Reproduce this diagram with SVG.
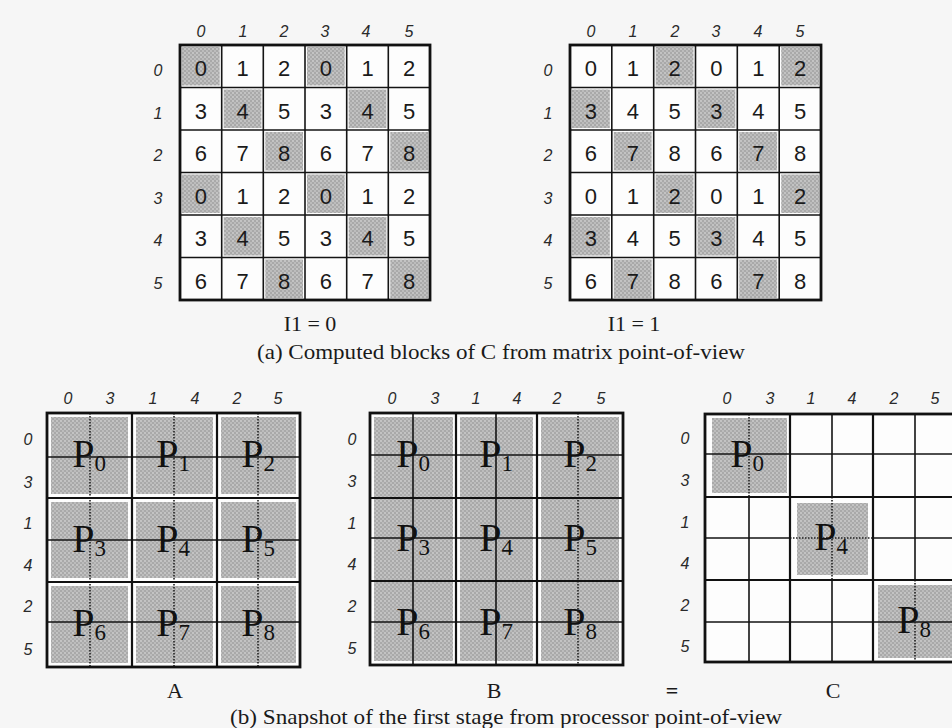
<svg xmlns="http://www.w3.org/2000/svg" width="952" height="728" viewBox="0 0 952 728">
<style>
.bg{fill:#f6f6f6}
.cell{fill:#fdfdfd}
.sh{fill:url(#ht)}
.g{fill:none;stroke:#141414;stroke-width:1.6}
.gm{fill:none;stroke:#111;stroke-width:2.2}
.go{fill:none;stroke:#111;stroke-width:2.8}
.gd{fill:none;stroke:#222;stroke-width:1.6;stroke-dasharray:1.5 1.5}
.num{font-family:"Liberation Sans",Arial,sans-serif;font-size:22px;fill:#1a1a1a;text-anchor:middle}
.hd{font-family:"Liberation Sans",Arial,sans-serif;font-style:italic;font-size:16px;fill:#2a2a2a;text-anchor:middle}
.p{font-family:"Liberation Serif","Times New Roman",serif;font-size:40px;fill:#111;text-anchor:middle}
.sub{font-size:23px}
.cap{font-family:"Liberation Serif","Times New Roman",serif;font-size:22px;fill:#1a1a1a}
</style>
<defs>
<pattern id="ht" width="4" height="4" patternUnits="userSpaceOnUse">
<rect width="4" height="4" fill="#a9a9a9"/>
<circle cx="1" cy="1" r="0.9" fill="#d0d0d0"/>
<circle cx="3" cy="3" r="0.9" fill="#c6c6c6"/>
</pattern>
</defs>
<rect class="bg" x="0" y="0" width="952" height="728"/>

<!-- Top-left matrix: I1 = 0 -->
<g id="matrix-i1-0">
<rect class="cell" x="180" y="45" width="250" height="255"/>
<rect class="sh" x="182" y="47" width="37.7" height="38.5"/>
<rect class="sh" x="307" y="47" width="37.7" height="38.5"/>
<rect class="sh" x="223.7" y="89.5" width="37.7" height="38.5"/>
<rect class="sh" x="348.7" y="89.5" width="37.7" height="38.5"/>
<rect class="sh" x="265.3" y="132" width="37.7" height="38.5"/>
<rect class="sh" x="390.3" y="132" width="37.7" height="38.5"/>
<rect class="sh" x="182" y="174.5" width="37.7" height="38.5"/>
<rect class="sh" x="307" y="174.5" width="37.7" height="38.5"/>
<rect class="sh" x="223.7" y="217" width="37.7" height="38.5"/>
<rect class="sh" x="348.7" y="217" width="37.7" height="38.5"/>
<rect class="sh" x="265.3" y="259.5" width="37.7" height="38.5"/>
<rect class="sh" x="390.3" y="259.5" width="37.7" height="38.5"/>
<path class="g" d="M221.7 45V300M263.3 45V300M305 45V300M346.7 45V300M388.3 45V300M180 87.5H430M180 130H430M180 172.5H430M180 215H430M180 257.5H430"/>
<rect class="go" x="180" y="45" width="250" height="255"/>
<g class="hd">
<text x="201" y="37">0</text><text x="243" y="37">1</text><text x="284" y="37">2</text><text x="325" y="37">3</text><text x="366" y="37">4</text><text x="409" y="37">5</text>
<text x="158" y="76">0</text><text x="158" y="119">1</text><text x="158" y="161">2</text><text x="158" y="204">3</text><text x="158" y="246">4</text><text x="158" y="289">5</text>
</g>
<g class="num">
<text x="200.8" y="76">0</text><text x="242.5" y="76">1</text><text x="284.2" y="76">2</text><text x="325.8" y="76">0</text><text x="367.5" y="76">1</text><text x="409.2" y="76">2</text>
<text x="200.8" y="119">3</text><text x="242.5" y="119">4</text><text x="284.2" y="119">5</text><text x="325.8" y="119">3</text><text x="367.5" y="119">4</text><text x="409.2" y="119">5</text>
<text x="200.8" y="161">6</text><text x="242.5" y="161">7</text><text x="284.2" y="161">8</text><text x="325.8" y="161">6</text><text x="367.5" y="161">7</text><text x="409.2" y="161">8</text>
<text x="200.8" y="204">0</text><text x="242.5" y="204">1</text><text x="284.2" y="204">2</text><text x="325.8" y="204">0</text><text x="367.5" y="204">1</text><text x="409.2" y="204">2</text>
<text x="200.8" y="246">3</text><text x="242.5" y="246">4</text><text x="284.2" y="246">5</text><text x="325.8" y="246">3</text><text x="367.5" y="246">4</text><text x="409.2" y="246">5</text>
<text x="200.8" y="289">6</text><text x="242.5" y="289">7</text><text x="284.2" y="289">8</text><text x="325.8" y="289">6</text><text x="367.5" y="289">7</text><text x="409.2" y="289">8</text>
</g>
<text class="cap" x="310" y="331" text-anchor="middle">I1 = 0</text>
</g>

<!-- Top-right matrix: I1 = 1 -->
<g id="matrix-i1-1">
<rect class="cell" x="570" y="45" width="251" height="255"/>
<rect class="sh" x="655.7" y="47" width="37.8" height="38.5"/>
<rect class="sh" x="781.2" y="47" width="37.8" height="38.5"/>
<rect class="sh" x="572" y="89.5" width="37.8" height="38.5"/>
<rect class="sh" x="697.5" y="89.5" width="37.8" height="38.5"/>
<rect class="sh" x="613.8" y="132" width="37.8" height="38.5"/>
<rect class="sh" x="739.3" y="132" width="37.8" height="38.5"/>
<rect class="sh" x="655.7" y="174.5" width="37.8" height="38.5"/>
<rect class="sh" x="781.2" y="174.5" width="37.8" height="38.5"/>
<rect class="sh" x="572" y="217" width="37.8" height="38.5"/>
<rect class="sh" x="697.5" y="217" width="37.8" height="38.5"/>
<rect class="sh" x="613.8" y="259.5" width="37.8" height="38.5"/>
<rect class="sh" x="739.3" y="259.5" width="37.8" height="38.5"/>
<path class="g" d="M611.8 45V300M653.7 45V300M695.5 45V300M737.3 45V300M779.2 45V300M570 87.5H821M570 130H821M570 172.5H821M570 215H821M570 257.5H821"/>
<rect class="go" x="570" y="45" width="251" height="255"/>
<g class="hd">
<text x="591" y="37">0</text><text x="633" y="37">1</text><text x="675" y="37">2</text><text x="716" y="37">3</text><text x="758" y="37">4</text><text x="800" y="37">5</text>
<text x="548" y="76">0</text><text x="548" y="119">1</text><text x="548" y="161">2</text><text x="548" y="204">3</text><text x="548" y="246">4</text><text x="548" y="289">5</text>
</g>
<g class="num">
<text x="590.9" y="76">0</text><text x="632.8" y="76">1</text><text x="674.6" y="76">2</text><text x="716.4" y="76">0</text><text x="758.3" y="76">1</text><text x="800.1" y="76">2</text>
<text x="590.9" y="119">3</text><text x="632.8" y="119">4</text><text x="674.6" y="119">5</text><text x="716.4" y="119">3</text><text x="758.3" y="119">4</text><text x="800.1" y="119">5</text>
<text x="590.9" y="161">6</text><text x="632.8" y="161">7</text><text x="674.6" y="161">8</text><text x="716.4" y="161">6</text><text x="758.3" y="161">7</text><text x="800.1" y="161">8</text>
<text x="590.9" y="204">0</text><text x="632.8" y="204">1</text><text x="674.6" y="204">2</text><text x="716.4" y="204">0</text><text x="758.3" y="204">1</text><text x="800.1" y="204">2</text>
<text x="590.9" y="246">3</text><text x="632.8" y="246">4</text><text x="674.6" y="246">5</text><text x="716.4" y="246">3</text><text x="758.3" y="246">4</text><text x="800.1" y="246">5</text>
<text x="590.9" y="289">6</text><text x="632.8" y="289">7</text><text x="674.6" y="289">8</text><text x="716.4" y="289">6</text><text x="758.3" y="289">7</text><text x="800.1" y="289">8</text>
</g>
<text class="cap" x="634" y="331" text-anchor="middle">I1 = 1</text>
</g>

<text id="caption-a" class="cap" x="257" y="359" textLength="488" lengthAdjust="spacingAndGlyphs">(a) Computed blocks of C from matrix point-of-view</text>

<!-- Matrix A -->
<g id="matrix-A">
<rect class="cell" x="47" y="413" width="253" height="254"/>
<rect class="sh" x="51" y="417" width="77" height="77"/>
<rect class="sh" x="136" y="417" width="77" height="77"/>
<rect class="sh" x="221" y="417" width="75" height="77"/>
<rect class="sh" x="51" y="502" width="77" height="76"/>
<rect class="sh" x="136" y="502" width="77" height="76"/>
<rect class="sh" x="221" y="502" width="75" height="76"/>
<rect class="sh" x="51" y="586" width="77" height="77"/>
<rect class="sh" x="136" y="586" width="77" height="77"/>
<rect class="sh" x="221" y="586" width="75" height="77"/>
<path class="gd" d="M90 413V667M174 413V667M258 413V667"/>
<path class="g" d="M47 457H300M47 540H300M47 622H300"/>
<path class="gm" d="M132 413V667M217 413V667M47 498H300M47 582H300"/>
<rect class="go" x="47" y="413" width="253" height="254"/>
<g class="hd">
<text x="68" y="404">0</text><text x="110" y="404">3</text><text x="153" y="404">1</text><text x="195" y="404">4</text><text x="237" y="404">2</text><text x="278" y="404">5</text>
<text x="28" y="445">0</text><text x="28" y="488">3</text><text x="28" y="529">1</text><text x="28" y="571">4</text><text x="28" y="612">2</text><text x="28" y="655">5</text>
</g>
<g class="p">
<text x="89" y="467">P<tspan class="sub" dy="4">0</tspan></text>
<text x="173" y="467">P<tspan class="sub" dy="4">1</tspan></text>
<text x="258" y="467">P<tspan class="sub" dy="4">2</tspan></text>
<text x="89" y="552">P<tspan class="sub" dy="4">3</tspan></text>
<text x="173" y="552">P<tspan class="sub" dy="4">4</tspan></text>
<text x="258" y="552">P<tspan class="sub" dy="4">5</tspan></text>
<text x="89" y="636">P<tspan class="sub" dy="4">6</tspan></text>
<text x="173" y="636">P<tspan class="sub" dy="4">7</tspan></text>
<text x="258" y="636">P<tspan class="sub" dy="4">8</tspan></text>
</g>
<text class="cap" x="175" y="698" text-anchor="middle">A</text>
</g>

<!-- Matrix B -->
<g id="matrix-B">
<rect class="cell" x="370" y="413" width="253" height="252"/>
<rect class="sh" x="374" y="417" width="79" height="244"/>
<rect class="sh" x="460" y="417" width="73" height="244"/>
<rect class="sh" x="541" y="417" width="78" height="244"/>
<path class="g" d="M413 413V665M496 413V665M370 455H623M370 538H623M370 622H623"/>
<path class="gd" d="M578 413V665"/>
<path class="gm" d="M456 413V665M537 413V665M370 498H623M370 581H623"/>
<rect class="go" x="370" y="413" width="253" height="252"/>
<g class="hd">
<text x="392" y="404">0</text><text x="435" y="404">3</text><text x="476" y="404">1</text><text x="517" y="404">4</text><text x="557" y="404">2</text><text x="601" y="404">5</text>
<text x="352" y="445">0</text><text x="352" y="487">3</text><text x="352" y="529">1</text><text x="352" y="570">4</text><text x="352" y="612">2</text><text x="352" y="654">5</text>
</g>
<g class="p">
<text x="413" y="467">P<tspan class="sub" dy="4">0</tspan></text>
<text x="496" y="467">P<tspan class="sub" dy="4">1</tspan></text>
<text x="580" y="467">P<tspan class="sub" dy="4">2</tspan></text>
<text x="413" y="551">P<tspan class="sub" dy="4">3</tspan></text>
<text x="496" y="551">P<tspan class="sub" dy="4">4</tspan></text>
<text x="580" y="551">P<tspan class="sub" dy="4">5</tspan></text>
<text x="413" y="635">P<tspan class="sub" dy="4">6</tspan></text>
<text x="496" y="635">P<tspan class="sub" dy="4">7</tspan></text>
<text x="580" y="635">P<tspan class="sub" dy="4">8</tspan></text>
</g>
<text class="cap" x="494" y="698" text-anchor="middle">B</text>
</g>

<text id="equals" class="cap" x="672" y="698" text-anchor="middle" font-weight="bold">=</text>

<!-- Matrix C -->
<g id="matrix-C">
<rect class="cell" x="705" y="414" width="250" height="248"/>
<rect class="sh" x="712" y="418" width="75" height="75"/>
<rect class="sh" x="797" y="503" width="71" height="72"/>
<rect class="sh" x="878" y="585" width="77" height="73"/>
<path class="g" d="M705 454H955M705 538H790M873 538H955M705 622H955M749 497V662M832 414V497M832 580V662M915 414V580"/>
<path class="gd" d="M749 414V497M832 497V580M915 580V662M790 538H873"/>
<path class="gm" d="M790 414V662M873 414V662M705 497H955M705 580H955"/>
<rect class="go" x="705" y="414" width="250" height="248"/>
<g class="hd">
<text x="727" y="404">0</text><text x="770" y="404">3</text><text x="811" y="404">1</text><text x="852" y="404">4</text><text x="894" y="404">2</text><text x="935" y="404">5</text>
<text x="685" y="444">0</text><text x="685" y="486">3</text><text x="685" y="528">1</text><text x="685" y="569">4</text><text x="685" y="611">2</text><text x="685" y="652">5</text>
</g>
<g class="p">
<text x="747" y="467">P<tspan class="sub" dy="4">0</tspan></text>
<text x="831" y="550">P<tspan class="sub" dy="4">4</tspan></text>
<text x="914" y="633">P<tspan class="sub" dy="4">8</tspan></text>
</g>
<text class="cap" x="833" y="698" text-anchor="middle">C</text>
</g>

<text id="caption-b" class="cap" x="230" y="724" textLength="552" lengthAdjust="spacingAndGlyphs">(b) Snapshot of the first stage from processor point-of-view</text>
</svg>
